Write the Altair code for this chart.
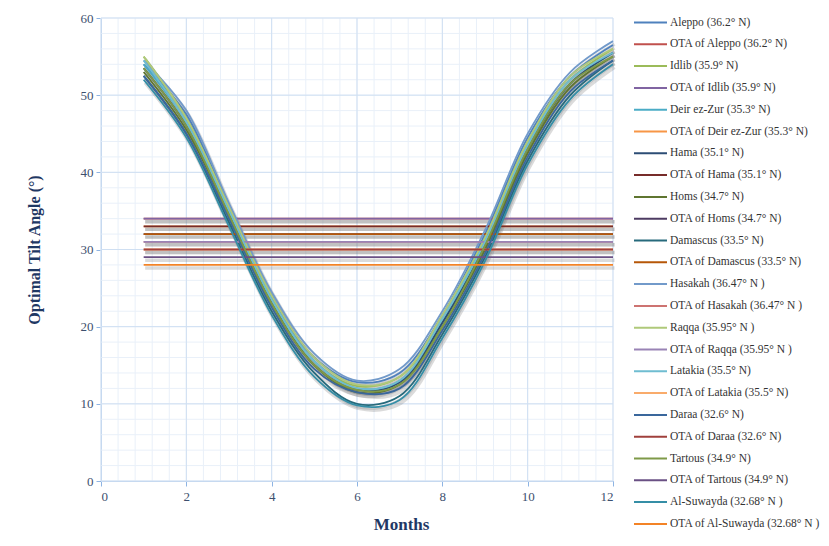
import altair as alt
import pandas as pd

months = [1, 2, 3, 4, 5, 6, 7, 8, 9, 10, 11, 12]

series_names = [
    "Aleppo (36.2° N)", "OTA of Aleppo (36.2° N)",
    "Idlib (35.9° N)", "OTA of Idlib (35.9° N)",
    "Deir ez-Zur (35.3° N)", "OTA of Deir ez-Zur (35.3° N)",
    "Hama (35.1° N)", "OTA of Hama (35.1° N)",
    "Homs (34.7° N)", "OTA of Homs (34.7° N)",
    "Damascus (33.5° N)", "OTA of Damascus (33.5° N)",
    "Hasakah (36.47° N )", "OTA of Hasakah (36.47° N )",
    "Raqqa (35.95° N )", "OTA of Raqqa (35.95° N )",
    "Latakia (35.5° N)", "OTA of Latakia (35.5° N)",
    "Daraa (32.6° N)", "OTA of Daraa (32.6° N)",
    "Tartous (34.9° N)", "OTA of Tartous (34.9° N)",
    "Al-Suwayda (32.68° N )", "OTA of Al-Suwayda (32.68° N )",
]

series_colors = [
    "#4F81BD", "#C0504D", "#9BBB59", "#8064A2", "#4BACC6", "#F79646",
    "#2C4D75", "#772C2A", "#5F7530", "#4D3B62", "#276A7C", "#B65708",
    "#729ACA", "#CD7371", "#AFC97A", "#9983B5", "#6FBDD1", "#F9AB6B",
    "#3A679C", "#A0403C", "#7F9A48", "#6A5084", "#358EA6", "#F38326",
]

# monthly optimal tilt angles (deg)
aleppo     = [54.0, 47.5, 35.5, 24.0, 16.0, 12.8, 14.0, 21.5, 32.0, 44.5, 52.5, 56.5]
idlib      = [55.0, 47.0, 35.5, 23.5, 15.5, 12.3, 13.5, 21.0, 31.5, 44.0, 52.0, 56.0]
deir_ez_zur= [54.0, 46.5, 35.0, 23.5, 15.5, 12.0, 13.0, 20.5, 31.0, 43.5, 51.5, 55.5]
hama       = [53.5, 46.0, 34.5, 23.0, 15.0, 11.8, 12.8, 20.5, 30.5, 43.0, 51.5, 55.5]
homs       = [53.0, 45.5, 34.5, 23.0, 15.0, 11.5, 12.5, 20.0, 30.0, 42.5, 51.0, 55.0]
damascus   = [52.5, 45.0, 33.5, 22.0, 14.0, 10.0, 11.0, 19.0, 29.0, 41.5, 50.0, 54.5]
hasakah    = [54.5, 48.0, 36.0, 24.5, 16.5, 13.0, 14.5, 22.0, 32.5, 45.0, 53.0, 57.0]
raqqa      = [55.0, 47.0, 35.5, 24.0, 16.0, 12.5, 13.5, 21.5, 31.5, 44.0, 52.5, 56.0]
latakia    = [54.5, 46.5, 35.0, 23.5, 15.5, 12.0, 13.0, 21.0, 31.0, 43.5, 52.0, 55.5]
daraa      = [52.5, 45.0, 34.0, 22.5, 14.5, 11.5, 12.0, 19.5, 29.5, 42.0, 50.5, 54.5]
tartous    = [53.5, 46.0, 34.5, 23.0, 15.0, 11.8, 12.5, 20.0, 30.5, 43.0, 51.5, 55.0]
al_suwayda = [52.0, 44.5, 33.0, 21.5, 13.5, 9.8, 10.5, 18.5, 28.5, 41.0, 49.5, 54.0]

# annual optimal tilt angles (deg)
ota_values = [34, 34, 33, 33, 32, 32, 31, 31, 30, 30, 29, 28]

city_curves = [aleppo, idlib, deir_ez_zur, hama, homs, damascus,
               hasakah, raqqa, latakia, daraa, tartous, al_suwayda]

rows = []
for i, curve in enumerate(city_curves):
    cname = series_names[2 * i]
    oname = series_names[2 * i + 1]
    for m, v in zip(months, curve):
        rows.append({"series": cname, "month": m, "value": v})
    for m in (months[0], months[-1]):
        rows.append({"series": oname, "month": m, "value": ota_values[i]})
df = pd.DataFrame(rows)

x_major = [0, 2, 4, 6, 8, 10, 12]
x_minor = [round(0.4 * i, 1) for i in range(31)]
y_major = [0, 10, 20, 30, 40, 50, 60]
y_minor = list(range(0, 61, 2))

font = "Liberation Serif"
axis_blue = "#8EB4E3"
label_col = "#3D4F6E"
title_col = "#1F3864"

xscale = alt.Scale(domain=[0, 12], nice=False)
yscale = alt.Scale(domain=[0, 60], nice=False)

xr_minor = alt.Chart(pd.DataFrame({"month": x_minor})).mark_rule(
    color="#E9F0F9", strokeWidth=1).encode(x=alt.X("month:Q", scale=xscale))
yr_minor = alt.Chart(pd.DataFrame({"value": y_minor})).mark_rule(
    color="#E9F0F9", strokeWidth=1).encode(y=alt.Y("value:Q", scale=yscale))
xr_major = alt.Chart(pd.DataFrame({"month": x_major})).mark_rule(
    color="#CFDFF2", strokeWidth=1).encode(x=alt.X("month:Q", scale=xscale))
yr_major = alt.Chart(pd.DataFrame({"value": y_major})).mark_rule(
    color="#CFDFF2", strokeWidth=1).encode(y=alt.Y("value:Q", scale=yscale))

shadow = alt.Chart(df).mark_line(
    color="#7F7F7F", opacity=0.28, strokeWidth=3.5, xOffset=1.5, yOffset=3,
    interpolate="catmull-rom"
).encode(
    x=alt.X("month:Q", scale=xscale),
    y=alt.Y("value:Q", scale=yscale),
    detail="series:N",
)

lines = alt.Chart(df).mark_line(strokeWidth=1.8, interpolate="catmull-rom").encode(
    x=alt.X("month:Q", scale=xscale, axis=alt.Axis(
        values=x_major, grid=False, domainColor=axis_blue, tickColor=axis_blue,
        tickSize=5, labelFont=font, labelFontSize=13, labelColor=label_col,
        labelPadding=4, title="Months", titleFont=font, titleFontSize=17,
        titleFontWeight="bold", titleColor=title_col, titleX=300, titleY=43,
        titleBaseline="middle")),
    y=alt.Y("value:Q", scale=yscale, axis=alt.Axis(
        values=y_major, grid=False, domainColor=axis_blue, tickColor=axis_blue,
        tickSize=5, labelFont=font, labelFontSize=13, labelColor=label_col,
        labelPadding=3, title="Optimal Tilt Angle (°)", titleFont=font,
        titleFontSize=16, titleFontWeight="bold", titleColor=title_col,
        titleX=-59, titleY=231.5)),
    color=alt.Color("series:N", scale=alt.Scale(domain=series_names, range=series_colors),
                    sort=series_names,
                    legend=alt.Legend(
                        orient="none", legendX=543, legendY=-2, title=None,
                        symbolType="M-3,0H3", symbolSize=121, symbolStrokeWidth=2,
                        labelOffset=13, labelFont=font, labelFontSize=11.5,
                        labelColor="#333333", rowPadding=9.8, padding=0,
                        labelLimit=300)),
)

chart = alt.layer(xr_minor, yr_minor, xr_major, yr_major, shadow, lines).properties(
    width=512, height=463,
    padding={"left": 101, "top": 18, "right": 216, "bottom": 65},
    autosize=alt.AutoSizeParams(type="none"),
    background="white",
).configure_view(strokeWidth=0)

chart.save("out.html", embed_options={"renderer": "svg", "actions": False})
